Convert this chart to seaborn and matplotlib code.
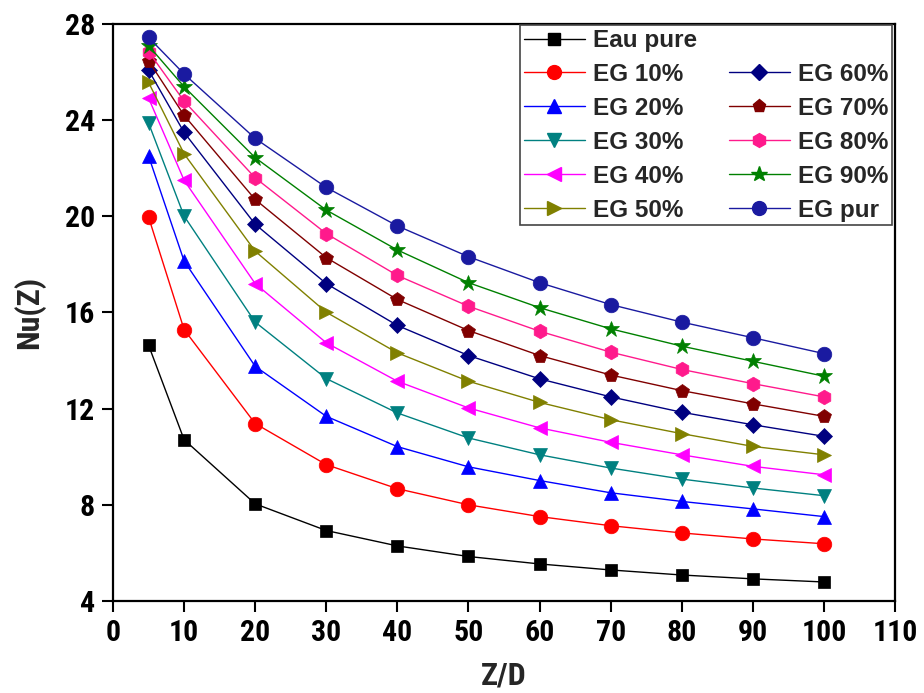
import matplotlib
matplotlib.use("Agg")
import matplotlib.pyplot as plt
import seaborn as sns
import numpy as np
import pandas as pd
from matplotlib.lines import Line2D
from matplotlib import font_manager
from matplotlib.font_manager import FontProperties

x_zd = [5, 10, 20, 30, 40, 50, 60, 70, 80, 90, 100]

eau_pure = [14.64, 10.71, 8.04, 6.93, 6.29, 5.85, 5.54, 5.29, 5.08, 4.92, 4.79]
eg10 = [19.97, 15.29, 11.38, 9.67, 8.67, 8.00, 7.51, 7.13, 6.83, 6.58, 6.38]
eg20 = [22.51, 18.14, 13.76, 11.68, 10.42, 9.58, 9.01, 8.50, 8.14, 7.83, 7.51]
eg30 = [23.88, 20.01, 15.60, 13.25, 11.82, 10.78, 10.08, 9.53, 9.07, 8.70, 8.38]
eg40 = [24.92, 21.50, 17.20, 14.74, 13.14, 12.03, 11.20, 10.60, 10.08, 9.60, 9.25]
eg50 = [25.57, 22.60, 18.55, 16.01, 14.32, 13.14, 12.26, 11.54, 10.96, 10.43, 10.08]
eg60 = [26.08, 23.49, 19.67, 17.20, 15.46, 14.21, 13.24, 12.49, 11.85, 11.33, 10.85]
eg70 = [26.47, 24.20, 20.70, 18.28, 16.54, 15.25, 14.21, 13.40, 12.75, 12.20, 11.68]
eg80 = [26.85, 24.79, 21.60, 19.28, 17.54, 16.26, 15.22, 14.35, 13.63, 13.04, 12.49]
eg90 = [27.10, 25.39, 22.44, 20.26, 18.60, 17.24, 16.20, 15.32, 14.60, 13.97, 13.35]
eg_pur = [27.44, 25.92, 23.24, 21.20, 19.60, 18.32, 17.24, 16.33, 15.60, 14.95, 14.29]

series_labels = ["Eau pure", "EG 10%", "EG 20%", "EG 30%", "EG 40%", "EG 50%",
                 "EG 60%", "EG 70%", "EG 80%", "EG 90%", "EG pur"]
series_values = [eau_pure, eg10, eg20, eg30, eg40, eg50, eg60, eg70, eg80, eg90, eg_pur]

colors = ["#000000", "#FF0000", "#0000FF", "#008080", "#FF00FF", "#808000",
          "#000080", "#800000", "#FF1A8C", "#008000", "#1A1AA0"]
markers = ["s", "o", "^", "v", "<", ">", "D", "p", "h", "*", "o"]
msizes = [9, 10.5, 10.5, 10.5, 10.5, 10.5, 8.5, 10, 10.5, 12, 10.5]

sns.set_style("ticks")
plt.rcParams["font.family"] = ["Liberation Sans", "DejaVu Sans"]

# choose a condensed bold font if one is installed
narrow_path = None
for f in font_manager.fontManager.ttflist:
    nm = f.name.lower()
    st = str(f.stretch).lower()
    fname = f.fname.lower()
    is_bold = (f.weight in ("bold", 700) or (isinstance(f.weight, int) and f.weight >= 700)
               or "bold" in fname)
    if is_bold and ("narrow" in nm or "condensed" in nm or "condensed" in st
                    or "narrow" in fname or "condensed" in fname):
        if "oblique" in fname or "italic" in fname:
            continue
        narrow_path = f.fname
        if "liberation" in fname:
            break
if narrow_path:
    narrow_fp = lambda size: FontProperties(fname=narrow_path, size=size)
else:
    narrow_fp = lambda size: FontProperties(family="Liberation Sans", weight="bold",
                                            size=size)

fig = plt.figure(figsize=(9.24, 6.93), dpi=100)
ax = fig.add_axes([0.1223, 0.1328, 0.9686 - 0.1223, 0.9654 - 0.1328])

df = pd.DataFrame({"x": np.tile(x_zd, len(series_labels)),
                   "y": np.concatenate(series_values),
                   "s": np.repeat(series_labels, len(x_zd))})

for lab, col, mk, ms in zip(series_labels, colors, markers, msizes):
    sub = df[df["s"] == lab]
    sns.lineplot(data=sub, x="x", y="y", ax=ax, color=col, marker=mk,
                 markersize=ms, markeredgecolor=col, markeredgewidth=0.5,
                 linewidth=1.0, legend=False)

ax.set_xlim(0, 110)
ax.set_ylim(4, 28)
ax.set_xticks(range(0, 111, 10))
ax.set_yticks(range(4, 29, 4))
for sp in ax.spines.values():
    sp.set_visible(True)
    sp.set_linewidth(1.6)
    sp.set_color("black")
ax.tick_params(axis="both", direction="out", length=8, width=1.5, colors="black",
               top=False, right=False, pad=5)
for lbl in ax.get_xticklabels() + ax.get_yticklabels():
    lbl.set_fontproperties(narrow_fp(21.5))

ax.set_xlabel("Z/D", fontproperties=narrow_fp(23), labelpad=10)
ax.set_ylabel("Nu(Z)", fontproperties=narrow_fp(23), labelpad=14)

handles = []
for lab, col, mk, ms in zip(series_labels, colors, markers, msizes):
    handles.append(Line2D([], [], color=col, marker=mk, markersize=ms * 0.95,
                          markeredgecolor=col, linewidth=1.0, label=lab))
blank = Line2D([], [], color="none", marker=None, linewidth=0, label=" ")
leg_handles = handles[:6] + [blank] + handles[6:]
leg = ax.legend(handles=leg_handles, ncol=2, loc="upper right",
                bbox_to_anchor=(0.9965, 0.9975), frameon=True, fancybox=False,
                edgecolor="black", framealpha=1, handlelength=2.5,
                handletextpad=0.35, columnspacing=1.3, labelspacing=0.45,
                borderpad=0.15, borderaxespad=0.0,
                prop={"family": "Liberation Sans", "weight": "bold", "size": 17.5})
leg.get_frame().set_linewidth(1.2)
leg.get_frame().set_edgecolor("#444444")

fig.savefig("out.png", dpi=100)
